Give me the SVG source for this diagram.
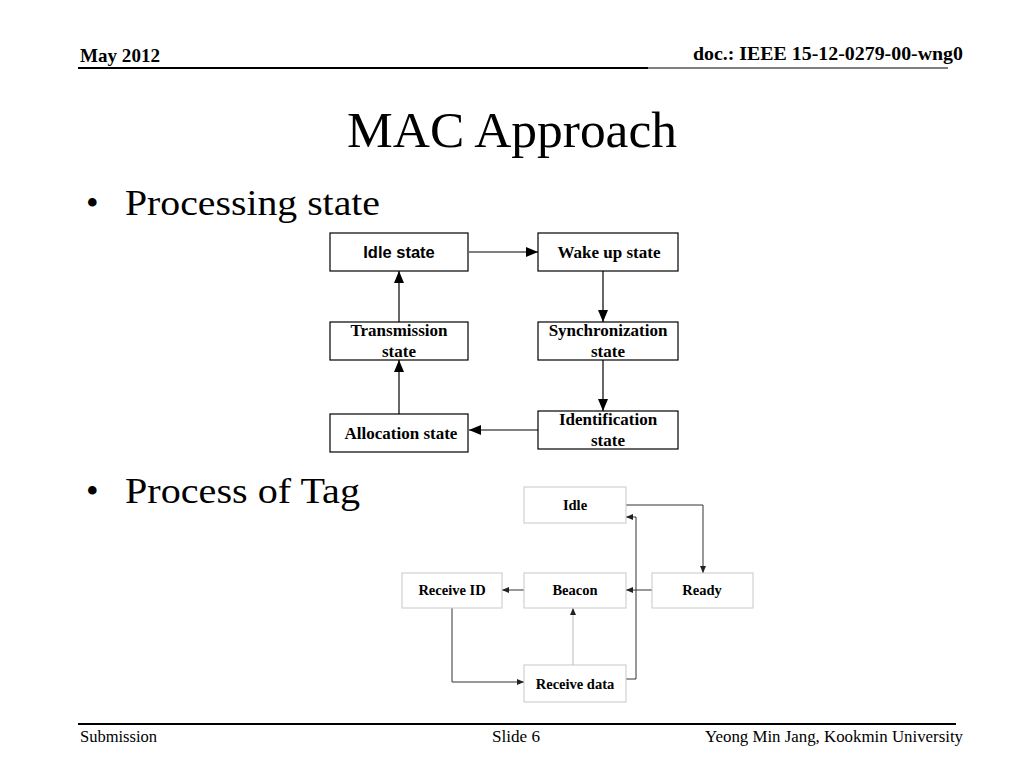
<svg xmlns="http://www.w3.org/2000/svg" width="1024" height="768" viewBox="0 0 1024 768">
<defs>
<style>
.ser{font-family:"Liberation Serif","Times New Roman",serif}
.b1{fill:#fff;stroke:#000;stroke-width:1.2}
.b2{fill:#fff;stroke:#c8c8c8;stroke-width:1}
.t1{font-family:"Liberation Serif",serif;font-weight:bold;font-size:17px;text-anchor:middle}
.t2{font-family:"Liberation Serif",serif;font-weight:bold;font-size:14.5px;text-anchor:middle}
.c1{stroke:#000;stroke-width:1.2;fill:none}
.c2{stroke:#333;stroke-width:1;fill:none}
</style>
<marker id="a1" markerWidth="12" markerHeight="10" refX="12" refY="5" orient="auto" markerUnits="userSpaceOnUse"><path d="M0,0 L12,5 L0,10 Z" fill="#000"/></marker>
<marker id="a2" markerWidth="7" markerHeight="6" refX="7" refY="3" orient="auto" markerUnits="userSpaceOnUse"><path d="M0,0 L7,3 L0,6 Z" fill="#222"/></marker>
</defs>
<rect width="1024" height="768" fill="#fff"/>
<text x="80" y="62" class="ser" font-size="19" font-weight="bold" textLength="80" lengthAdjust="spacingAndGlyphs">May 2012</text>
<text x="693" y="60" class="ser" font-size="19" font-weight="bold" textLength="270" lengthAdjust="spacingAndGlyphs">doc.: IEEE 15-12-0279-00-wng0</text>
<line x1="78" y1="68" x2="648" y2="68" stroke="#000" stroke-width="2"/>
<line x1="648" y1="68" x2="948" y2="68" stroke="#000" stroke-width="1"/>
<text x="347" y="147" class="ser" font-size="51" textLength="330" lengthAdjust="spacingAndGlyphs">MAC Approach</text>
<text x="86" y="215" class="ser" font-size="36">•</text>
<text x="125" y="215" class="ser" font-size="36" textLength="255" lengthAdjust="spacingAndGlyphs">Processing state</text>
<text x="86" y="503" class="ser" font-size="36">•</text>
<text x="125" y="503" class="ser" font-size="36" textLength="235" lengthAdjust="spacingAndGlyphs">Process of Tag</text>
<line x1="78" y1="724" x2="956" y2="724" stroke="#000" stroke-width="2"/>
<text x="80" y="742" class="ser" font-size="16" textLength="77" lengthAdjust="spacingAndGlyphs">Submission</text>
<text x="492" y="742" class="ser" font-size="16" textLength="48" lengthAdjust="spacingAndGlyphs">Slide 6</text>
<text x="705" y="742" class="ser" font-size="16" textLength="258" lengthAdjust="spacingAndGlyphs">Yeong Min Jang, Kookmin University</text>

<g id="connectors">
<line x1="469" y1="252" x2="538" y2="252" class="c1" marker-end="url(#a1)"/>
<line x1="603" y1="271" x2="603" y2="322" class="c1" marker-end="url(#a1)"/>
<line x1="603" y1="360" x2="603" y2="411" class="c1" marker-end="url(#a1)"/>
<line x1="538" y1="430" x2="469" y2="430" class="c1" marker-end="url(#a1)"/>
<line x1="399" y1="414" x2="399" y2="360" class="c1" marker-end="url(#a1)"/>
<line x1="399" y1="322" x2="399" y2="271" class="c1" marker-end="url(#a1)"/>
<polyline points="626,505 703,505 703,573" class="c2" marker-end="url(#a2)"/>
<line x1="652" y1="590" x2="626" y2="590" class="c2" marker-end="url(#a2)"/>
<line x1="524" y1="590" x2="502" y2="590" class="c2" marker-end="url(#a2)"/>
<polyline points="452,608 452,682 524,682" class="c2" marker-end="url(#a2)"/>
<line x1="573" y1="665" x2="573" y2="608" stroke="#bbb" stroke-width="1" marker-end="url(#a2)"/>
<polyline points="626,679 636,679 636,517 626,517" class="c2" marker-end="url(#a2)"/>
</g>

<g id="idle-state"><rect x="330" y="233" width="138" height="38" class="b1"/><text x="399" y="258" font-family="Liberation Sans,Arial,sans-serif" font-weight="bold" font-size="16.5" text-anchor="middle">Idle state</text></g>
<g id="wake-up-state"><rect x="538" y="233" width="140" height="38" class="b1"/><text x="609" y="258" class="t1">Wake up state</text></g>
<g id="transmission-state"><rect x="330" y="322" width="138" height="38" class="b1"/><text x="399" y="336" class="t1">Transmission</text><text x="399" y="357" class="t1">state</text></g>
<g id="synchronization-state"><rect x="538" y="322" width="140" height="38" class="b1"/><text x="608" y="336" class="t1">Synchronization</text><text x="608" y="357" class="t1">state</text></g>
<g id="allocation-state"><rect x="330" y="414" width="138" height="38" class="b1"/><text x="401" y="439" class="t1">Allocation state</text></g>
<g id="identification-state"><rect x="538" y="411" width="140" height="38" class="b1"/><text x="608" y="425" class="t1">Identification</text><text x="608" y="446" class="t1">state</text></g>

<g id="idle"><rect x="524" y="487" width="102" height="36" class="b2"/><text x="575" y="510" class="t2">Idle</text></g>
<g id="receive-id"><rect x="402" y="573" width="100" height="35" class="b2"/><text x="452" y="595" class="t2">Receive ID</text></g>
<g id="beacon"><rect x="524" y="573" width="102" height="35" class="b2"/><text x="575" y="595" class="t2">Beacon</text></g>
<g id="ready"><rect x="652" y="573" width="101" height="35" class="b2"/><text x="702" y="595" class="t2">Ready</text></g>
<g id="receive-data"><rect x="524" y="665" width="102" height="37" class="b2"/><text x="575" y="689" class="t2">Receive data</text></g>
</svg>
